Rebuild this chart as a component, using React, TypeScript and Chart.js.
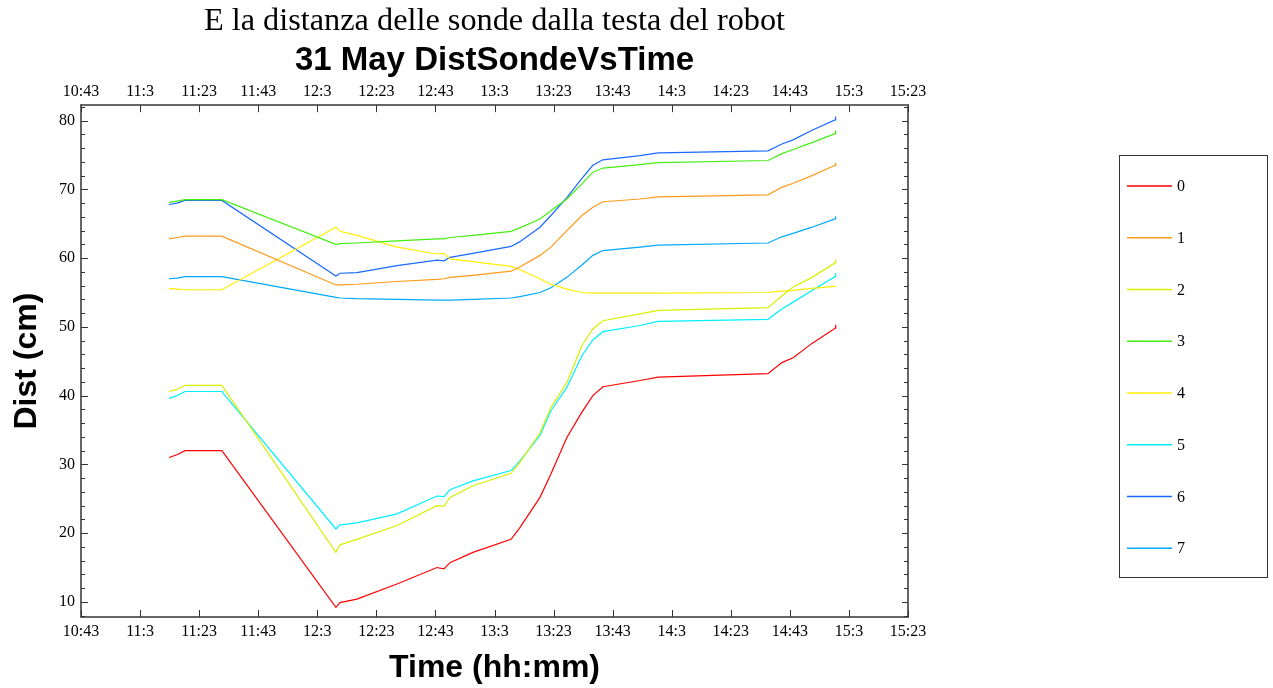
import React, { useEffect, useRef } from 'react';
import { Chart, registerables } from 'chart.js';

Chart.register(...registerables);

// time of each sample, in minutes since midnight
const timeMinutes = [
  672.8, 675.5, 678.2, 690.7, 729.3, 730.7, 736.4, 750.0, 763.5, 765.9, 767.9, 775.7, 788.6, 791.6,
  798.4, 802.1, 807.5, 812.6, 816.3, 819.7, 832.3, 838.4, 875.6, 880.3, 884.1, 890.5, 898.3, 898.5,
];

const series0 = [
  31.0, 31.4, 32.0, 32.0, 9.2, 9.9, 10.4, 12.6, 15.0, 14.8, 15.7, 17.2, 19.1, 20.8,
  25.2, 28.6, 33.9, 37.6, 40.0, 41.3, 42.2, 42.7, 43.2, 44.8, 45.5, 47.6, 49.8, 50.3,
];
const series1 = [
  62.8, 63.0, 63.2, 63.2, 56.1, 56.1, 56.2, 56.6, 56.9, 57.0, 57.2, 57.5, 58.1, 58.7,
  60.4, 61.6, 64.0, 66.2, 67.4, 68.2, 68.6, 68.9, 69.2, 70.3, 70.9, 72.0, 73.5, 73.9,
];
const series2 = [
  40.6, 40.9, 41.5, 41.5, 17.2, 18.3, 19.1, 21.1, 24.0, 23.9, 25.2, 26.9, 28.7, 30.3,
  34.6, 38.3, 41.9, 47.3, 49.7, 50.9, 51.9, 52.4, 52.8, 54.5, 55.8, 57.2, 59.3, 59.8,
];
const series3 = [
  68.1, 68.3, 68.5, 68.5, 62.0, 62.1, 62.2, 62.5, 62.8, 62.8, 63.0, 63.3, 63.9, 64.4,
  65.7, 66.9, 68.6, 70.8, 72.5, 73.1, 73.6, 73.9, 74.2, 75.2, 75.8, 76.8, 78.1, 78.6,
];
const series4 = [
  55.6, 55.5, 55.4, 55.4, 64.5, 63.9, 63.3, 61.6, 60.6, 60.7, 59.9, 59.5, 58.8, 58.3,
  57.0, 56.2, 55.5, 55.0, 54.9, 54.9, 54.9, 54.9, 55.0, 55.2, 55.3, 55.6, 55.9, 56.0,
];
const series5 = [
  39.6, 40.0, 40.6, 40.6, 20.6, 21.2, 21.5, 22.8, 25.4, 25.3, 26.3, 27.6, 29.1, 30.5,
  34.2, 37.8, 41.2, 45.8, 48.1, 49.3, 50.2, 50.8, 51.1, 52.6, 53.6, 55.3, 57.3, 57.8,
];
const series6 = [
  67.8, 68.0, 68.4, 68.4, 57.4, 57.8, 57.9, 58.9, 59.7, 59.6, 60.1, 60.7, 61.7, 62.4,
  64.5, 66.2, 68.8, 71.6, 73.5, 74.3, 74.9, 75.3, 75.6, 76.6, 77.2, 78.6, 80.1, 80.6,
];
const series7 = [
  57.0, 57.1, 57.3, 57.3, 54.3, 54.2, 54.1, 54.0, 53.9, 53.9, 53.9, 54.0, 54.2, 54.4,
  55.0, 55.7, 57.2, 59.0, 60.4, 61.1, 61.6, 61.9, 62.2, 63.1, 63.6, 64.5, 65.7, 66.1,
];

const seriesValues = [series0, series1, series2, series3, series4, series5, series6, series7];
const seriesLabels = ['0', '1', '2', '3', '4', '5', '6', '7'];
const seriesColors = [
  '#ff0000', '#ff9a1a', '#d8f000', '#44ee11', '#ffee00', '#00f0ff', '#1a6aff', '#00a8ff',
];

// tick positions (minutes since midnight) and labels
const xTickMinutes = [643, 663, 683, 703, 723, 743, 763, 783, 803, 823, 843, 863, 883, 903, 923];
const yTickValues = [10, 20, 30, 40, 50, 60, 70, 80];
const yMinorTickValues = [
  8, 12, 14, 16, 18, 22, 24, 26, 28, 32, 34, 36, 38, 42, 44, 46, 48, 52, 54, 56, 58, 62, 64, 66,
  68, 72, 74, 76, 78, 82,
];

const X_MIN = 643;
const X_MAX = 923;
const Y_MIN = 7.8;
const Y_MAX = 82.25;

const SERIF = "'Liberation Serif', 'Times New Roman', serif";
const SANS = "'Liberation Sans', Arial, sans-serif";

const fmtTime = (v: number) => `${Math.floor(v / 60)}:${Math.round(v % 60)}`;

const ticksAndLegend = {
  id: 'ticksAndLegend',
  afterDraw(chart: any) {
    const { ctx, chartArea: a, scales } = chart;
    const xs = scales.x;
    const ys = scales.y;
    ctx.save();
    ctx.strokeStyle = '#333';
    ctx.lineWidth = 1;
    ctx.beginPath();
    xTickMinutes.forEach((v) => {
      const px = Math.round(xs.getPixelForValue(v)) + 0.5;
      ctx.moveTo(px, a.bottom);
      ctx.lineTo(px, a.bottom - 7);
      ctx.moveTo(px, a.top);
      ctx.lineTo(px, a.top + 7);
    });
    yTickValues.forEach((v) => {
      const py = Math.round(ys.getPixelForValue(v)) + 0.5;
      ctx.moveTo(a.left, py);
      ctx.lineTo(a.left + 7, py);
      ctx.moveTo(a.right, py);
      ctx.lineTo(a.right - 6, py);
    });
    yMinorTickValues.forEach((v) => {
      const py = Math.round(ys.getPixelForValue(v)) + 0.5;
      ctx.moveTo(a.left, py);
      ctx.lineTo(a.left + 4, py);
      ctx.moveTo(a.right, py);
      ctx.lineTo(a.right - 4, py);
    });
    ctx.stroke();

    // legend box
    ctx.strokeStyle = '#333';
    ctx.lineWidth = 1;
    ctx.strokeRect(1119.5, 155.5, 148, 422);
    ctx.font = `16px ${SERIF}`;
    ctx.textAlign = 'left';
    ctx.textBaseline = 'middle';
    seriesLabels.forEach((lab, i) => {
      const y = 186 + i * 51.75;
      ctx.strokeStyle = seriesColors[i];
      ctx.lineWidth = 1.3;
      ctx.beginPath();
      ctx.moveTo(1127, y);
      ctx.lineTo(1172, y);
      ctx.stroke();
      ctx.fillStyle = '#000';
      ctx.fillText(lab, 1177, y + 1);
    });
    ctx.restore();
  },
};

export default function App() {
  const canvasRef = useRef<HTMLCanvasElement | null>(null);

  useEffect(() => {
    if (!canvasRef.current) return;
    const datasets = seriesValues.map((vals, i) => ({
      label: seriesLabels[i],
      data: timeMinutes.map((t, j) => ({ x: t, y: vals[j] })),
      borderColor: seriesColors[i],
      backgroundColor: seriesColors[i],
      borderWidth: 1.2,
      pointRadius: 0,
      tension: 0,
      fill: false,
      xAxisID: 'x',
      yAxisID: 'y',
    }));

    const border = { display: true, color: '#666', width: 2 };
    const tickFont = { family: SERIF, size: 16 };

    const chart = new Chart(canvasRef.current, {
      type: 'line',
      data: { datasets },
      options: {
        animation: false,
        responsive: false,
        layout: { padding: { left: 0, right: 335, top: 0, bottom: 0 } },
        plugins: {
          legend: { display: false },
          tooltip: { enabled: false },
          title: {
            display: true,
            text: 'E la distanza delle sonde dalla testa del robot',
            fullSize: false,
            color: '#000',
            font: { family: SERIF, size: 32.3, weight: 'normal' },
            padding: { top: 2.6, bottom: 0 },
          },
          subtitle: {
            display: true,
            text: '31 May DistSondeVsTime',
            fullSize: false,
            color: '#000',
            font: { family: SANS, size: 33, weight: 'bold' },
            padding: { top: 0, bottom: 0 },
          },
        },
        scales: {
          x: {
            type: 'linear',
            position: 'bottom',
            min: X_MIN,
            max: X_MAX,
            afterBuildTicks: (s: any) => {
              s.ticks = xTickMinutes.map((v) => ({ value: v }));
            },
            afterFit: (s: any) => {
              s.height = 71;
            },
            ticks: {
              callback: (v: any) => fmtTime(Number(v)),
              font: tickFont,
              color: '#000',
              padding: 5.4,
              autoSkip: false,
              maxRotation: 0,
              minRotation: 0,
            },
            grid: { display: false, drawTicks: false },
            border,
            title: {
              display: true,
              text: 'Time (hh:mm)',
              color: '#000',
              font: { family: SANS, size: 32, weight: 'bold' },
              padding: { top: 0, bottom: 0.8 },
            },
          },
          x2: {
            type: 'linear',
            position: 'top',
            display: true,
            min: X_MIN,
            max: X_MAX,
            afterBuildTicks: (s: any) => {
              s.ticks = xTickMinutes.map((v) => ({ value: v }));
            },
            afterFit: (s: any) => {
              s.height = 24.2;
            },
            ticks: {
              callback: (v: any) => fmtTime(Number(v)),
              font: tickFont,
              color: '#000',
              padding: 3.4,
              autoSkip: false,
              maxRotation: 0,
              minRotation: 0,
            },
            grid: { display: false, drawTicks: false },
            border,
          },
          y: {
            type: 'linear',
            position: 'left',
            min: Y_MIN,
            max: Y_MAX,
            afterBuildTicks: (s: any) => {
              s.ticks = yTickValues.map((v) => ({ value: v }));
            },
            afterFit: (s: any) => {
              s.width = 81;
            },
            ticks: { font: tickFont, color: '#000', padding: 6 },
            grid: { display: false, drawTicks: false },
            border,
            title: {
              display: true,
              text: 'Dist (cm)',
              color: '#000',
              font: { family: SANS, size: 32, weight: 'bold' },
              padding: { top: 7.8, bottom: 0 },
            },
          },
          y2: {
            type: 'linear',
            position: 'right',
            display: true,
            min: Y_MIN,
            max: Y_MAX,
            afterFit: (s: any) => {
              s.width = 30;
            },
            ticks: { display: false },
            grid: { display: false, drawTicks: false },
            border,
          },
        },
      } as any,
      plugins: [ticksAndLegend],
    });
    return () => chart.destroy();
  }, []);

  return (
    <div style={{ position: 'absolute', left: 0, top: 0, width: 1273, height: 688, background: '#fff' }}>
      <canvas ref={canvasRef} width={1273} height={688} style={{ display: 'block' }} />
    </div>
  );
}
